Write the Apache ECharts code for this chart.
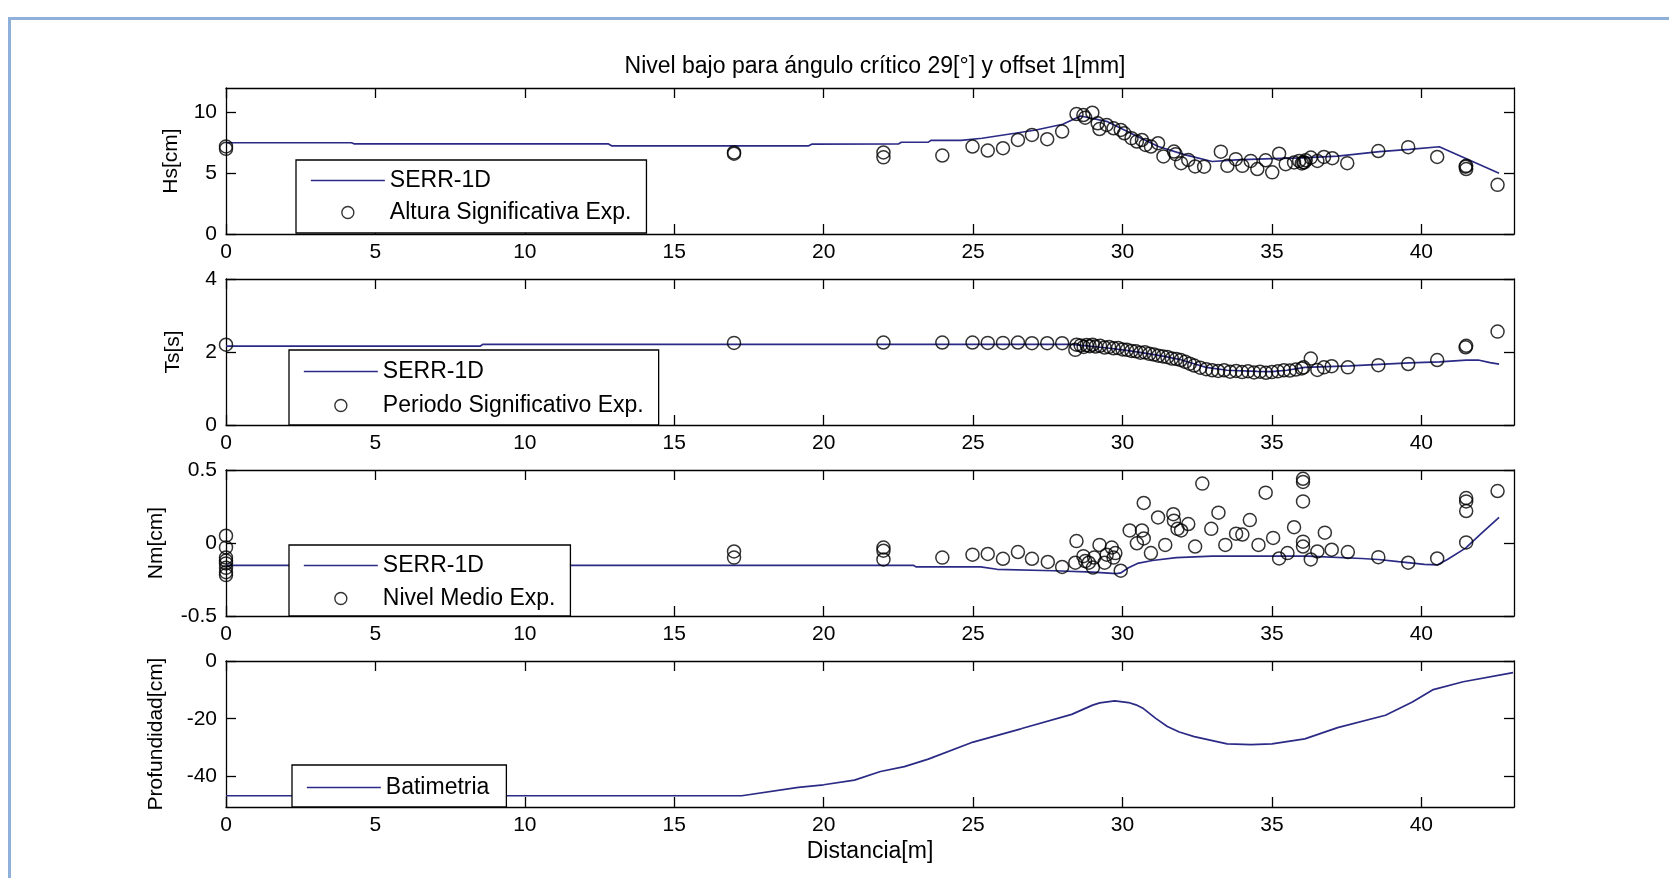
<!DOCTYPE html>
<html>
<head>
<meta charset="utf-8">
<script src="https://cdn.jsdelivr.net/npm/echarts@6/dist/echarts.min.js"></script>
<style>
  html, body { margin: 0; padding: 0; background: #fff; }
  #chart { width: 1669px; height: 878px; }
</style>
</head>
<body>
<div id="chart"></div>
<script>
// ---- Data ----------------------------------------------------------------
const xTicks = [0, 5, 10, 15, 20, 25, 30, 35, 40];
const hsTicks = [0, 5, 10];
const tsTicks = [0, 2, 4];
const nmTicks = [-0.5, 0, 0.5];
const profTicks = [-40, -20, 0];

// Significant wave height, model (SERR-1D)
const hsModelX = [0, 4.2, 4.3, 12.8, 12.9, 19.5, 19.6, 22.5, 22.6, 23.5, 23.6, 24.6, 25.3, 26.4, 27.1, 28.0, 28.6, 29.5, 30.4, 31.2, 32.1, 33.0, 33.8, 35.0, 36.0, 37.2, 38.6, 39.6, 40.6, 42.6];
const hsModelY = [7.5, 7.5, 7.4, 7.4, 7.25, 7.25, 7.38, 7.4, 7.54, 7.55, 7.7, 7.7, 7.87, 8.28, 8.55, 9.02, 9.7, 9.23, 8.14, 7.19, 6.5, 5.96, 6.09, 6.2, 6.25, 6.4, 6.77, 6.96, 7.17, 5.0];
// Significant wave height, experiment
const hsExpX = [0, 0, 17, 17, 22, 22, 23.97, 24.98, 25.49, 26.0, 26.5, 26.97, 27.48, 27.98, 28.46, 28.69, 28.75, 28.99, 29.17, 29.23, 29.47, 29.7, 29.94, 30.06, 30.3, 30.48, 30.65, 30.77, 30.95, 31.19, 31.37, 31.72, 31.78, 31.96, 32.2, 32.43, 32.73, 33.29, 33.51, 33.79, 34.01, 34.29, 34.51, 34.79, 35.01, 35.24, 35.46, 35.74, 35.91, 36.0, 36.05, 36.08, 36.13, 36.3, 36.52, 36.74, 37.02, 37.52, 38.56, 39.56, 40.53, 41.48, 41.5, 41.5, 42.55];
const hsExpY = [7.0, 7.2, 6.6, 6.7, 6.7, 6.3, 6.45, 7.19, 6.86, 7.05, 7.73, 8.14, 7.79, 8.42, 9.86, 9.78, 9.56, 9.97, 9.1, 8.63, 8.96, 8.69, 8.55, 8.28, 7.87, 7.6, 7.73, 7.32, 7.19, 7.46, 6.37, 6.78, 6.56, 5.82, 6.09, 5.55, 5.53, 6.77, 5.6, 6.15, 5.6, 6.01, 5.34, 6.06, 5.07, 6.6, 5.74, 5.88, 6.01, 5.8, 5.9, 5.88, 6.06, 6.28, 6.01, 6.33, 6.23, 5.82, 6.82, 7.14, 6.33, 5.53, 5.34, 5.6, 4.04];

// Significant period, model
const tsModelX = [0, 8.5, 8.6, 28.3, 28.8, 29.5, 30.2, 30.8, 31.4, 31.9, 32.3, 32.8, 33.5, 34.5, 35.0, 35.5, 36.1, 37.6, 38.6, 39.6, 40.6, 41.5, 41.9, 42.3, 42.6];
const tsModelY = [2.16, 2.16, 2.21, 2.21, 2.17, 2.11, 2.04, 1.96, 1.88, 1.8, 1.7, 1.58, 1.5, 1.47, 1.46, 1.5, 1.58, 1.62, 1.66, 1.7, 1.73, 1.78, 1.78, 1.71, 1.67];
// Significant period, experiment
const tsExpX = [0, 17, 22, 23.97, 24.98, 25.49, 26.0, 26.5, 26.97, 27.48, 27.98, 28.42, 28.46, 28.6, 28.7, 28.8, 28.9, 29.0, 29.1, 29.25, 29.4, 29.55, 29.7, 29.85, 30.0, 30.15, 30.3, 30.45, 30.6, 30.75, 30.9, 31.05, 31.2, 31.35, 31.5, 31.65, 31.8, 31.95, 32.1, 32.25, 32.4, 32.6, 32.8, 33.0, 33.2, 33.4, 33.6, 33.8, 34.0, 34.2, 34.4, 34.6, 34.8, 35.0, 35.2, 35.4, 35.6, 35.8, 36.0, 36.06, 36.3, 36.52, 36.74, 37.0, 37.54, 38.56, 39.56, 40.53, 41.48, 41.5, 42.55];
const tsExpY = [2.2, 2.25, 2.26, 2.26, 2.26, 2.25, 2.25, 2.26, 2.24, 2.24, 2.24, 2.06, 2.2, 2.18, 2.14, 2.19, 2.16, 2.2, 2.15, 2.17, 2.12, 2.14, 2.1, 2.11, 2.07, 2.06, 2.03, 2.02, 1.98, 1.99, 1.95, 1.93, 1.9, 1.88, 1.86, 1.82, 1.81, 1.78, 1.73, 1.68, 1.63, 1.57, 1.53, 1.5, 1.48, 1.5, 1.46, 1.48, 1.45, 1.47, 1.44, 1.46, 1.43, 1.45, 1.47, 1.5, 1.49, 1.52, 1.55, 1.58, 1.82, 1.51, 1.58, 1.61, 1.58, 1.64, 1.67, 1.78, 2.13, 2.17, 2.56];

// Mean level, model
const nmModelX = [0, 23.0, 23.1, 25.25, 25.8, 27.7, 29.0, 29.8, 29.94, 30.2, 30.5, 31.0, 31.8, 33.0, 34.0, 35.2, 36.2, 38.0, 38.56, 39.23, 40.1, 40.53, 40.87, 41.48, 42.0, 42.6];
const nmModelY = [-0.153, -0.153, -0.164, -0.164, -0.18, -0.19, -0.2, -0.21, -0.205, -0.17, -0.14, -0.12, -0.1, -0.09, -0.09, -0.09, -0.09, -0.106, -0.113, -0.128, -0.146, -0.15, -0.113, -0.035, 0.064, 0.175];
// Mean level, experiment
const nmExpX = [0, 0, 0, 0, 0, 0, 0, 0, 17, 17, 22, 22, 22, 23.97, 24.98, 25.49, 26.0, 26.5, 26.97, 27.5, 27.98, 28.46, 28.42, 28.75, 28.69, 28.87, 29.05, 29.01, 29.23, 29.4, 29.47, 29.64, 29.76, 29.7, 29.94, 30.24, 30.48, 30.65, 30.71, 30.71, 30.95, 31.19, 31.43, 31.7, 31.72, 31.84, 31.96, 32.2, 32.43, 32.67, 32.97, 33.21, 33.44, 33.8, 34.01, 34.26, 34.55, 34.79, 35.04, 35.24, 35.52, 35.74, 36.04, 36.04, 36.04, 36.04, 36.04, 36.3, 36.52, 36.77, 37.0, 37.54, 38.56, 39.56, 40.53, 41.5, 41.5, 41.5, 41.5, 42.55];
const nmExpY = [0.05, -0.03, -0.1, -0.12, -0.14, -0.17, -0.2, -0.22, -0.058, -0.1, -0.031, -0.053, -0.113, -0.1, -0.08, -0.075, -0.108, -0.062, -0.108, -0.13, -0.164, 0.013, -0.135, -0.124, -0.09, -0.135, -0.1, -0.168, -0.013, -0.135, -0.08, -0.031, -0.069, -0.1, -0.19, 0.086, -0.002, 0.086, 0.274, 0.031, -0.069, 0.175, -0.013, 0.197, 0.153, 0.097, 0.086, 0.13, -0.024, 0.407, 0.097, 0.208, -0.013, 0.064, 0.058, 0.157, -0.013, 0.345, 0.035, -0.106, -0.069, 0.108, 0.44, 0.418, 0.285, 0.009, -0.024, -0.113, -0.058, 0.071, -0.046, -0.062, -0.097, -0.135, -0.106, 0.308, 0.285, 0.219, 0.004, 0.356];

// Bathymetry
const batX = [0, 17.26, 19.15, 20.0, 21.03, 21.9, 22.7, 23.5, 25.0, 26.6, 28.3, 29.0, 29.24, 29.74, 30.2, 30.45, 30.7, 31.1, 31.5, 31.9, 32.4, 33.5, 34.3, 35.0, 36.1, 37.2, 38.8, 39.7, 40.4, 41.4, 43.07];
const batY = [-46.7, -46.7, -43.8, -42.9, -41.3, -38.3, -36.6, -34.0, -28.1, -23.5, -18.5, -15.3, -14.5, -13.8, -14.4, -15.2, -16.5, -19.8, -22.7, -24.6, -26.2, -28.7, -29.0, -28.7, -27.0, -23.1, -18.8, -14.2, -9.9, -7.2, -4.0];

// ---- Chart ---------------------------------------------------------------
const FONT = 'Liberation Sans, Arial, Helvetica, sans-serif';
const X_MAX = 43.1;
const LINE_COLOR = '#2b2b86';
const pairs = (xs, ys) => xs.map((x, i) => [x, ys[i]]);

const panels = [
  { top: 88,  min: 0,     max: 12,  ticks: hsTicks,   name: 'Hs[cm]',          nameGap: 44 },
  { top: 279, min: 0,     max: 4,   ticks: tsTicks,   name: 'Ts[s]',           nameGap: 42 },
  { top: 470, min: -0.5,  max: 0.5, ticks: nmTicks,   name: 'Nm[cm]',          nameGap: 59 },
  { top: 661, min: -50.6, max: 0,   ticks: profTicks, name: 'Profundidad[cm]', nameGap: 59 }
];
const GRID_H = 146;

const axisLineStyle = { color: '#000', width: 1.3 };
const labelStyle = { color: '#000', fontSize: 21, fontFamily: FONT };

const grid = panels.map(p => ({ left: 226, right: 155, top: p.top, height: GRID_H }));

const xAxis = [];
const yAxis = [];
panels.forEach((p, g) => {
  [false, true].forEach(isTop => {
    xAxis.push({
      type: 'value', gridIndex: g, position: isTop ? 'top' : 'bottom',
      min: 0, max: X_MAX,
      axisLine: { onZero: false, lineStyle: axisLineStyle },
      axisTick: { inside: true, length: 10, customValues: xTicks, lineStyle: axisLineStyle },
      axisLabel: { show: !isTop, customValues: xTicks, margin: 8, ...labelStyle },
      splitLine: { show: false },
      name: (g === 3 && !isTop) ? 'Distancia[m]' : '',
      nameLocation: 'middle', nameGap: 33,
      nameTextStyle: { color: '#000', fontSize: 23, fontFamily: FONT }
    });
  });
  [false, true].forEach(isRight => {
    yAxis.push({
      type: 'value', gridIndex: g, position: isRight ? 'right' : 'left',
      min: p.min, max: p.max,
      axisLine: { onZero: false, lineStyle: axisLineStyle },
      axisTick: { inside: true, length: 10, customValues: p.ticks, lineStyle: axisLineStyle },
      axisLabel: { show: !isRight, customValues: p.ticks, margin: 9, ...labelStyle },
      splitLine: { show: false },
      name: isRight ? '' : p.name,
      nameLocation: 'middle', nameGap: p.nameGap, nameRotate: 90,
      nameTextStyle: { color: '#000', fontSize: 21, fontFamily: FONT }
    });
  });
});

function modelLine(name, g, xs, ys) {
  return {
    type: 'line', name, xAxisIndex: 2 * g, yAxisIndex: 2 * g,
    data: pairs(xs, ys), symbol: 'none', showSymbol: false, animation: false,
    lineStyle: { color: LINE_COLOR, width: 1.7 },
    itemStyle: { color: LINE_COLOR }, z: 2
  };
}
function expPoints(name, g, xs, ys) {
  return {
    type: 'scatter', name, xAxisIndex: 2 * g, yAxisIndex: 2 * g,
    data: pairs(xs, ys), symbol: 'circle', symbolSize: 13, animation: false,
    itemStyle: { color: 'rgba(0,0,0,0)', borderColor: '#000', borderWidth: 1.5 }, z: 3
  };
}

const series = [
  modelLine('SERR-1D', 0, hsModelX, hsModelY),
  expPoints('Altura Significativa Exp.', 0, hsExpX, hsExpY),
  modelLine('SERR-1D', 1, tsModelX, tsModelY),
  expPoints('Periodo Significativo Exp.', 1, tsExpX, tsExpY),
  modelLine('SERR-1D', 2, nmModelX, nmModelY),
  expPoints('Nivel Medio Exp.', 2, nmExpX, nmExpY),
  modelLine('Batimetria', 3, batX, batY)
];

// legend entries: plain line (no marker) for the model, open circle for measurements
const lineIcon = { itemStyle: { opacity: 0 }, lineStyle: { color: LINE_COLOR, width: 1.7 } };
const circleIcon = { itemStyle: { color: 'rgba(0,0,0,0)', borderColor: '#000', borderWidth: 1.4 } };
function legendBox(left, top, padding, gap, names) {
  return {
    orient: 'vertical', left, top, padding, itemGap: gap,
    itemWidth: 74, itemHeight: 12, selectedMode: false,
    backgroundColor: '#fff', borderColor: '#000', borderWidth: 1.3, borderRadius: 0,
    textStyle: { color: '#000', fontSize: 23, fontFamily: FONT },
    data: names.map((n, i) => (i === 1 ? { name: n, ...circleIcon } : { name: n, ...lineIcon })),
    z: 10
  };
}

const legend = [
  legendBox(296, 160, [9, 15, 9, 14], 9, ['SERR-1D', 'Altura Significativa Exp.']),
  legendBox(289, 350, [10, 15, 8, 14], 11, ['SERR-1D', 'Periodo Significativo Exp.']),
  legendBox(289, 545, [9, 15, 6, 14], 10, ['SERR-1D', 'Nivel Medio Exp.']),
  legendBox(292, 765, [11, 17, 8, 14], 10, ['Batimetria'])
];

const option = {
  backgroundColor: '#fff',
  animation: false,
  title: {
    text: 'Nivel bajo para ángulo crítico 29[°] y offset 1[mm]',
    left: 870, top: 50, textAlign: 'center',
    textStyle: { color: '#000', fontSize: 23, fontWeight: 'normal', fontFamily: FONT }
  },
  graphic: [{
    type: 'rect', silent: true, z: 0,
    shape: { x: 9.5, y: 18.5, width: 1680, height: 900 },
    style: { fill: 'none', stroke: '#8fb0d8', lineWidth: 3 }
  }],
  legend, grid, xAxis, yAxis, series
};

const chart = echarts.init(document.getElementById('chart'), null, { renderer: 'canvas' });
chart.setOption(option);
</script>
</body>
</html>
